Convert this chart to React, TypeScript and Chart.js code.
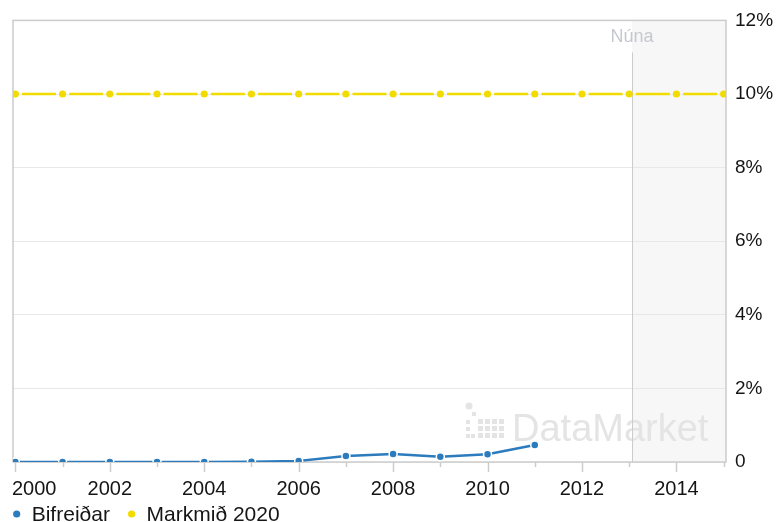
import React, { useEffect, useRef } from "react";
import { Chart, registerables } from "chart.js";

Chart.register(...registerables);

const seriesYears = [2000, 2001, 2002, 2003, 2004, 2005, 2006, 2007, 2008, 2009, 2010, 2011];
const bifreidarValues = [0, 0, 0, 0, 0, 0.01, 0.03, 0.16, 0.22, 0.14, 0.21, 0.46];
const targetYears = [2000, 2001, 2002, 2003, 2004, 2005, 2006, 2007, 2008, 2009, 2010, 2011, 2012, 2013, 2014, 2015];
const targetValues = [10, 10, 10, 10, 10, 10, 10, 10, 10, 10, 10, 10, 10, 10, 10, 10];
const xTickYears = [2000, 2001, 2002, 2003, 2004, 2005, 2006, 2007, 2008, 2009, 2010, 2011, 2012, 2013, 2014, 2015];
const xTickLabels = ["2000", "2002", "2004", "2006", "2008", "2010", "2012", "2014"];
const seriesNames = ["Bifreiðar", "Markmið 2020"];
const seriesColors = ["#2b7bbd", "#f2dc00"];
const nowValue = 2013.06;
const nowLabel = "Núna";
const watermark = "DataMarket";

const FONT = "'Liberation Sans', Arial, sans-serif";
const TEXT = "#151515";

const decor = {
  id: "decor",
  beforeDraw(chart: any) {
    const { ctx, chartArea: a, scales } = chart;
    const x = scales.x;
    const nx = x.getPixelForValue(nowValue);
    ctx.save();
    ctx.fillStyle = "#f7f7f7";
    ctx.fillRect(nx, a.top, a.right - nx, a.bottom - a.top);
    // watermark
    ctx.fillStyle = "#e4e4e4";
    ctx.font = `38px ${FONT}`;
    ctx.textAlign = "left";
    ctx.textBaseline = "alphabetic";
    ctx.fillText(watermark, 512, 441);
    // icon
    for (let r = 0; r < 3; r++) {
      for (let c = 0; c < 4; c++) {
        ctx.fillRect(478 + c * 7, 419 + r * 7, 5, 5);
      }
    }
    ctx.beginPath();
    ctx.arc(469, 406, 3.5, 0, Math.PI * 2);
    ctx.fill();
    ctx.fillRect(472, 412, 4, 4);
    ctx.fillRect(466, 420, 4, 4);
    ctx.fillRect(466, 427, 4, 4);
    ctx.fillRect(466, 434, 4, 4);
    ctx.fillRect(471, 434, 4, 4);
    ctx.restore();
  },
  beforeDatasetsDraw(chart: any) {
    const { ctx, chartArea: a, scales } = chart;
    const x = scales.x;
    const nx = x.getPixelForValue(nowValue);
    ctx.save();
    ctx.strokeStyle = "#cccccc";
    ctx.lineWidth = 1;
    ctx.beginPath();
    ctx.moveTo(Math.round(nx) + 0.5, a.top + 32);
    ctx.lineTo(Math.round(nx) + 0.5, a.bottom);
    ctx.stroke();
    ctx.fillStyle = "#c4c9cf";
    ctx.font = `18px ${FONT}`;
    ctx.textAlign = "center";
    ctx.textBaseline = "alphabetic";
    ctx.fillText(nowLabel, nx, a.top + 22);
    // border
    ctx.strokeStyle = "#cccccc";
    ctx.lineWidth = 1.5;
    ctx.strokeRect(a.left, a.top, a.right - a.left, a.bottom - a.top);
    ctx.restore();
  },
  afterDraw(chart: any) {
    const { ctx, chartArea: a, scales } = chart;
    const x = scales.x;
    ctx.save();
    ctx.strokeStyle = "#cccccc";
    ctx.lineWidth = 1.5;
    xTickYears.forEach((yr) => {
      const px = Math.round(x.getPixelForValue(yr)) + 0.5;
      const len = yr % 2 === 0 ? 10 : 5;
      ctx.beginPath();
      ctx.moveTo(px, a.bottom);
      ctx.lineTo(px, a.bottom + len);
      ctx.stroke();
    });
    ctx.fillStyle = TEXT;
    ctx.font = `20px ${FONT}`;
    ctx.textBaseline = "alphabetic";
    ctx.textAlign = "left";
    xTickLabels.forEach((lab) => {
      const px = x.getPixelForValue(Number(lab));
      const w = ctx.measureText(lab).width;
      let left = px - w / 2;
      if (left < 12) left = 12;
      if (left + w > 776) left = 776 - w;
      ctx.fillText(lab, left, 494.5);
    });
    // legend
    ctx.font = `21px ${FONT}`;
    let lx = 16.7;
    chart.data.datasets.forEach((ds: any) => {
      ctx.fillStyle = ds.borderColor;
      ctx.beginPath();
      ctx.arc(lx, 514, 3.6, 0, Math.PI * 2);
      ctx.fill();
      ctx.fillStyle = TEXT;
      const tx = lx + 15;
      ctx.fillText(ds.label, tx, 521);
      const w = ctx.measureText(ds.label).width;
      lx = tx + w + 21.7;
    });
    ctx.restore();
  },
};

export default function App() {
  const ref = useRef<HTMLCanvasElement | null>(null);
  useEffect(() => {
    if (!ref.current) return;
    const chart = new Chart(ref.current, {
      type: "line",
      data: {
        datasets: [
          {
            label: seriesNames[0],
            data: seriesYears.map((yr, i) => ({ x: yr, y: bifreidarValues[i] })),
            borderColor: seriesColors[0],
            backgroundColor: seriesColors[0],
            borderWidth: 2.5,
            pointRadius: 4,
            pointBorderWidth: 1.5,
            pointBorderColor: "#ffffff",
            pointBackgroundColor: seriesColors[0],
            tension: 0,
          },
          {
            label: seriesNames[1],
            data: targetYears.map((yr, i) => ({ x: yr, y: targetValues[i] })),
            borderColor: seriesColors[1],
            backgroundColor: seriesColors[1],
            borderWidth: 2.5,
            borderDash: [34, 13.22],
            borderDashOffset: 40.61,
            pointRadius: 3.6,
            pointBorderWidth: 0,
            pointBackgroundColor: seriesColors[1],
            tension: 0,
          },
        ],
      },
      options: {
        responsive: false,
        animation: false,
        layout: { padding: { left: 13, top: 20, right: 0, bottom: 0 } },
        plugins: {
          legend: { display: false },
          tooltip: { enabled: false },
        },
        scales: {
          x: {
            type: "linear",
            min: 1999.95,
            max: 2015.05,
            ticks: { display: false },
            grid: { display: false },
            border: { display: false },
            afterFit(scale: any) {
              scale.height = 60;
            },
          },
          y: {
            position: "right",
            min: 0,
            max: 12,
            ticks: {
              stepSize: 2,
              padding: 9,
              color: TEXT,
              font: { family: FONT, size: 19 },
              callback: (v: any) => (Number(v) === 0 ? "0" : `${v}%`),
            },
            grid: { color: "#e8e8e8", lineWidth: 1, drawTicks: false },
            border: { display: false },
            afterFit(scale: any) {
              scale.width = 52;
            },
          },
        },
      },
      plugins: [decor],
    });
    return () => chart.destroy();
  }, []);
  return (
    <div style={{ position: "absolute", left: 0, top: 0, width: 778, height: 522, background: "#fff" }}>
      <canvas ref={ref} width={778} height={522} style={{ display: "block" }} />
    </div>
  );
}
